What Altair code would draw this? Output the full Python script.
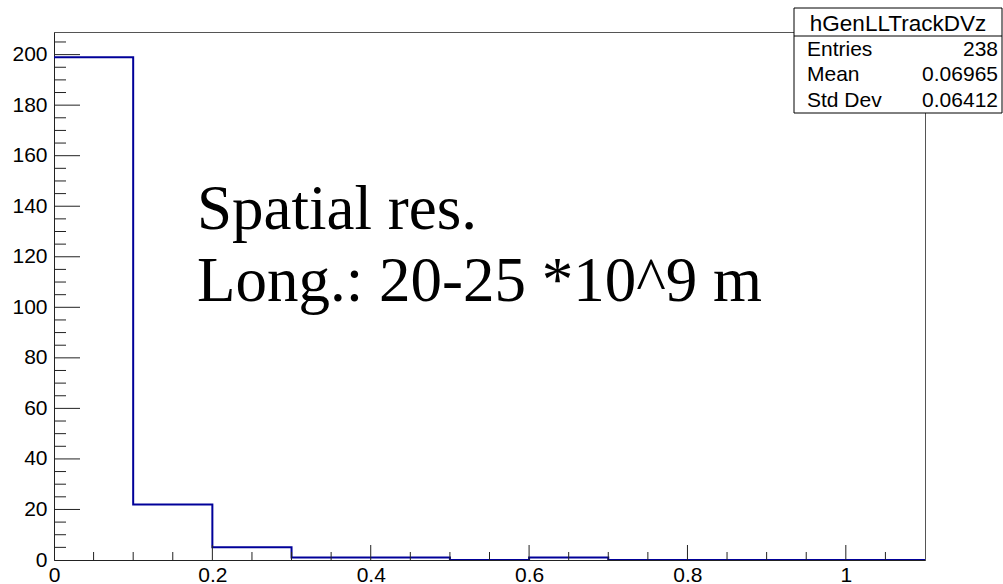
import altair as alt
import pandas as pd

# Histogram contents: bin edges and counts per bin
BIN_EDGES = [0.0, 0.1, 0.2, 0.3, 0.4, 0.5, 0.6, 0.7, 0.8, 0.9, 1.0, 1.1]
COUNTS = [199, 22, 5, 1, 1, 0, 1, 0, 0, 0, 0]

# Axis tick positions
X_LABEL_TICKS = [0, 0.2, 0.4, 0.6, 0.8, 1.0]
X_MAJOR_TICKS = [0.2, 0.4, 0.6, 0.8, 1.0]
X_MINOR_TICKS = [0.05, 0.1, 0.15, 0.25, 0.3, 0.35, 0.45, 0.5, 0.55, 0.65, 0.7,
                 0.75, 0.85, 0.9, 0.95, 1.05]
Y_MAJOR_TICKS = [20, 40, 60, 80, 100, 120, 140, 160, 180, 200]
Y_LABEL_TICKS = [0] + Y_MAJOR_TICKS
Y_MINOR_TICKS = [v for v in range(5, 210, 5) if v % 20 != 0]

# Statistics box
STAT_TITLE = "hGenLLTrackDVz"
STAT_NAMES = ["Entries", "Mean", "Std Dev"]
STAT_VALUES = ["238", "0.06965", "0.06412"]

ANNOTATION = ["Spatial res.", "Long.: 20-25 *10^9 m"]

X_DOMAIN = [0, 1.1]
Y_DOMAIN = [0, 208.95]

W, H = 871, 528
SANS = "Liberation Sans"
SERIF = "Liberation Serif"
AX = "#222222"

xs = alt.Scale(domain=X_DOMAIN, nice=False, zero=False)
ys = alt.Scale(domain=Y_DOMAIN, nice=False, zero=False)

x_axis = alt.Axis(
    values=X_LABEL_TICKS, labelExpr="format(datum.value, '.1~f')",
    title=None, ticks=False, tickSize=0, grid=False, domainColor=AX,
    labelFont=SANS, labelFontSize=21, labelColor="black", labelPadding=4,
    labelFlush=False, labelOverlap=False)
y_axis = alt.Axis(
    values=Y_LABEL_TICKS, format="d", title=None, ticks=False, tickSize=0,
    grid=False, domainColor=AX, labelFont=SANS, labelFontSize=21,
    labelColor="black", labelPadding=7, labelFlush=False, labelOverlap=False)

step_df = pd.DataFrame({"x": BIN_EDGES, "y": COUNTS + [COUNTS[-1]]})

hist = alt.Chart(step_df).mark_line(
    interpolate="step-after", color="#000099", strokeWidth=2, clip=True
).encode(
    x=alt.X("x:Q", scale=xs, axis=x_axis),
    y=alt.Y("y:Q", scale=ys, axis=y_axis),
)

def xticks(vals, length):
    return alt.Chart(pd.DataFrame({"x": vals})).mark_rule(
        color=AX, strokeWidth=1
    ).encode(
        x=alt.X("x:Q", scale=xs, axis=x_axis),
        y=alt.value(H), y2=alt.value(H - length),
    )

def yticks(vals, length):
    return alt.Chart(pd.DataFrame({"y": vals})).mark_rule(
        color=AX, strokeWidth=1
    ).encode(
        y=alt.Y("y:Q", scale=ys, axis=y_axis),
        x=alt.value(0), x2=alt.value(length),
    )

annot = alt.Chart(pd.DataFrame({"k": [0]})).mark_text(
    font=SERIF, fontSize=63, align="left", baseline="alphabetic",
    lineHeight=72, color="black"
).encode(x=alt.value(143), y=alt.value(197), text=alt.value(ANNOTATION))

# Statistics box in the top-right corner
BX0, BX1, BY0, BY1 = 740, 948, -24, 81
one = pd.DataFrame({"k": [0]})
box = alt.Chart(one).mark_rect(fill="white", stroke="black", strokeWidth=1).encode(
    x=alt.value(BX0), x2=alt.value(BX1), y=alt.value(BY0), y2=alt.value(BY1))
divider = alt.Chart(one).mark_rule(color="black", strokeWidth=1).encode(
    x=alt.value(BX0), x2=alt.value(BX1), y=alt.value(4))
title_txt = alt.Chart(one).mark_text(
    font=SANS, fontSize=22.5, align="center", baseline="middle", color="black"
).encode(x=alt.value((BX0 + BX1) / 2), y=alt.value(-8), text=alt.value(STAT_TITLE))

row_layers = []
for i, (name, val) in enumerate(zip(STAT_NAMES, STAT_VALUES)):
    yy = 17.5 + 25.75 * i
    row_layers.append(alt.Chart(one).mark_text(
        font=SANS, fontSize=21, align="left", baseline="middle", color="black"
    ).encode(x=alt.value(753), y=alt.value(yy), text=alt.value(name)))
    row_layers.append(alt.Chart(one).mark_text(
        font=SANS, fontSize=21, align="right", baseline="middle", color="black"
    ).encode(x=alt.value(944), y=alt.value(yy), text=alt.value(val)))

chart = alt.layer(
    hist,
    xticks(X_MAJOR_TICKS, 15), xticks(X_MINOR_TICKS, 8),
    yticks(Y_MAJOR_TICKS, 26), yticks(Y_MINOR_TICKS, 12),
    annot, box, divider, title_txt, *row_layers,
).properties(
    width=W, height=H,
    autosize=alt.AutoSizeParams(type="none"),
    padding={"left": 54, "top": 32, "right": 78, "bottom": 24},
    background="white",
).configure_view(stroke="#555555", strokeWidth=1)

chart.save("out.html", embed_options={"renderer": "svg", "actions": False})
